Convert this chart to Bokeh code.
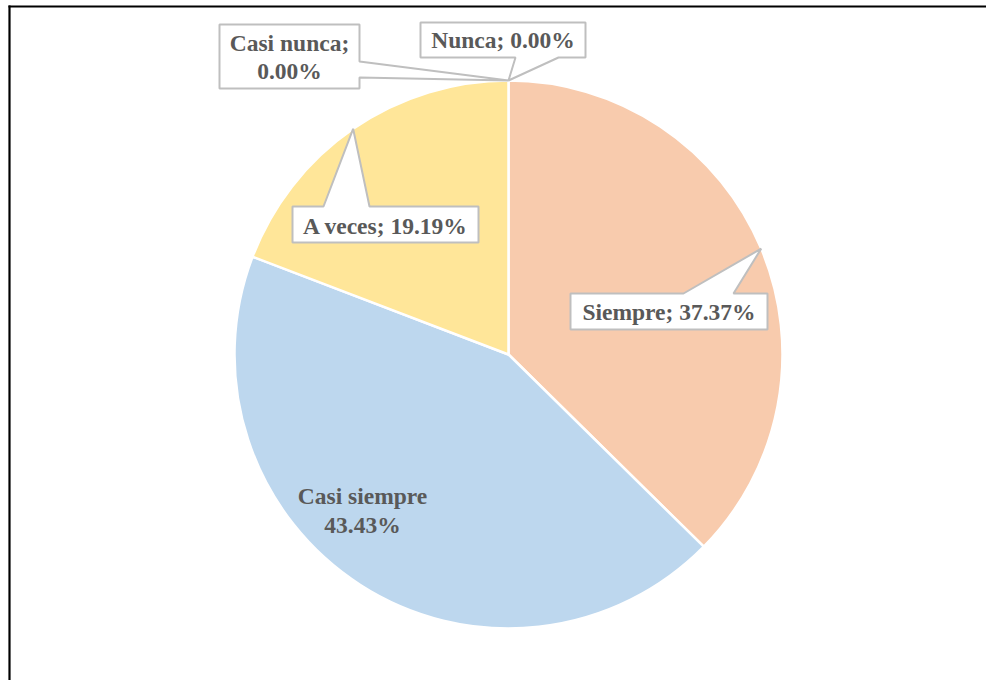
import math
from bokeh.plotting import figure
from bokeh.models import Range1d, ColumnDataSource
from bokeh.core.properties import value
from bokeh.embed import file_html
from bokeh.resources import INLINE

# ---- data ----
categories = ["Siempre", "Casi siempre", "A veces", "Casi nunca", "Nunca"]
percents = [37.37, 43.43, 19.19, 0.00, 0.00]
colors = ["#F8CBAD", "#BDD7EE", "#FFE699", "#A5A5A5", "#5B9BD5"]

W, H = 986, 680
TOP = 696  # data_y = TOP - image_y


def Y(y):
    return TOP - y


p = figure(width=W, height=H, output_backend="svg", toolbar_location=None,
           x_range=Range1d(0, W), y_range=Range1d(TOP - H, TOP),
           min_border=0)
p.axis.visible = False
p.grid.visible = False
p.outline_line_color = None
p.background_fill_color = "white"
p.border_fill_color = "white"

# chart frame (left and top visible)
p.line([9, 9], [Y(5), Y(700)], line_color="black", line_width=2.2)
p.line([8, W + 5], [Y(6), Y(6)], line_color="black", line_width=2.2)

cx, cy, r = 508, Y(354), 274

total = sum(percents)
starts, ends, mids = [], [], []
c = 0.0
for v in percents:
    c0 = c
    c1 = c + v / total
    starts.append(math.radians(90 - 360 * c1))
    ends.append(math.radians(90 - 360 * c0))
    mids.append(math.radians(90 - 360 * (c0 + c1) / 2))
    c = c1

keep = [i for i, v in enumerate(percents) if v > 0]
src = ColumnDataSource(dict(start=[starts[i] for i in keep],
                            end=[ends[i] for i in keep],
                            color=[colors[i] for i in keep],
                            cat=[categories[i] for i in keep]))
p.wedge(x=cx, y=cy, radius=r, start_angle="start", end_angle="end",
        fill_color="color", line_color="white", line_width=2.5, source=src)


def tip(i):
    return cx + r * math.cos(mids[i]), cy + r * math.sin(mids[i])


FONT = dict(text_font=value("Liberation Serif"), text_font_style="bold",
            text_font_size="23.5px", text_color="#595959",
            text_align="center", text_baseline="middle")

# callout boxes
xs, ys = [], []
# Siempre
tx, ty = tip(0)
xs.append([570, 683, tx, 733, 767, 767, 570])
ys.append([Y(293), Y(293), ty, Y(293), Y(293), Y(329), Y(329)])
# A veces
tx, ty = tip(2)
xs.append([292, 323, tx, 369, 478, 478, 292])
ys.append([Y(206), Y(206), ty, Y(206), Y(206), Y(242), Y(242)])
# Casi nunca
tx, ty = tip(3)
xs.append([219, 359, 359, tx, 359, 359, 219])
ys.append([Y(24), Y(24), Y(61), ty, Y(77), Y(88), Y(88)])
# Nunca
tx, ty = tip(4)
xs.append([420, 585, 585, 558, tx, 515, 420])
ys.append([Y(22), Y(22), Y(57), Y(57), ty, Y(57), Y(57)])

p.patches(xs, ys, fill_color="white", line_color="#BFBFBF", line_width=2)

fmt = ["{:.2f}%".format(v) for v in percents]
lab_x = [668.5, 362, 362, 385, 289, 289, 502.5]
lab_y = [Y(311), Y(495), Y(524), Y(225), Y(42), Y(70), Y(39)]
lab_t = [categories[0] + "; " + fmt[0],
         categories[1], fmt[1],
         categories[2] + "; " + fmt[2],
         categories[3] + ";", fmt[3],
         categories[4] + "; " + fmt[4]]
p.text(x=lab_x, y=lab_y, text=lab_t, **FONT)

open("out.html", "w").write(file_html(p, INLINE))
